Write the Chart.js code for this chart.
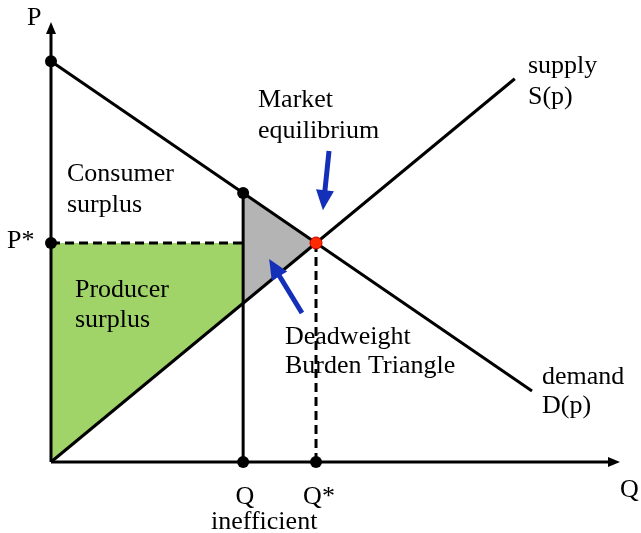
<!DOCTYPE html>
<html>
<head>
    <title>Deadweight Burden</title>
    <script src="https://cdn.jsdelivr.net/npm/chart.js"></script>
    <style>
        body { margin: 0; background: #fff; }
        canvas { display: block; }
    </style>
</head>
<body>
    <canvas id="chart" width="641" height="533"></canvas>

    <script>
        // Model values (arbitrary units, P* = Q* = 10)
        const qMax = 21.47, pMax = 20.09;
        const qStar = 10, pStar = 10;
        const qIneff = 7.25;
        const demandQ = [0, 18.15];
        const demandP = [18.3, 3.24];
        const supplyQ = [0, 17.5];
        const supplyP = [0, 17.5];
        const demandAtIneff = 12.28;
        const supplyAtIneff = 7.25;

        const pts = (xs, ys) => xs.map((x, i) => ({ x: x, y: ys[i] }));

        // Text labels (pixel layout)
        const labels = [
            { t: 'P', x: 27, y: 25 },
            { t: 'Q', x: 620, y: 497 },
            { t: 'P*', x: 7, y: 248 },
            { t: 'supply', x: 528, y: 73 },
            { t: 'S(p)', x: 528, y: 104 },
            { t: 'Market', x: 258, y: 107 },
            { t: 'equilibrium', x: 258, y: 138 },
            { t: 'Consumer', x: 67, y: 181 },
            { t: 'surplus', x: 67, y: 212 },
            { t: 'Producer', x: 75, y: 297 },
            { t: 'surplus', x: 75, y: 327 },
            { t: 'Deadweight', x: 285, y: 344 },
            { t: 'Burden Triangle', x: 285, y: 373 },
            { t: 'demand', x: 542, y: 384 },
            { t: 'D(p)', x: 542, y: 413 },
            { t: 'Q', x: 245, y: 504, c: true },
            { t: 'Q*', x: 319, y: 504, c: true },
            { t: 'inefficient', x: 211, y: 529 }
        ];

        // blue pointer arrows, in data units: [fromQ, fromP, toQ, toP]
        const pointers = [
            [10.49, 14.2, 10.26, 11.5],
            [9.47, 6.8, 8.23, 9.27]
        ];

        function arrowHead(ctx, x1, y1, x2, y2, len, half) {
            const a = Math.atan2(y2 - y1, x2 - x1);
            ctx.beginPath();
            ctx.moveTo(x2, y2);
            ctx.lineTo(x2 - len * Math.cos(a) + half * Math.sin(a), y2 - len * Math.sin(a) - half * Math.cos(a));
            ctx.lineTo(x2 - len * Math.cos(a) - half * Math.sin(a), y2 - len * Math.sin(a) + half * Math.cos(a));
            ctx.closePath();
            ctx.fill();
        }

        const decor = {
            id: 'decor',
            afterDatasetsDraw(chart) {
                const ctx = chart.ctx;
                const xs = chart.scales.x, ys = chart.scales.y;
                ctx.save();
                // axis arrowheads
                ctx.fillStyle = '#000';
                arrowHead(ctx, xs.getPixelForValue(0), ys.getPixelForValue(0) + 20, xs.getPixelForValue(0), ys.getPixelForValue(pMax), 12, 5);
                arrowHead(ctx, xs.getPixelForValue(0), ys.getPixelForValue(0), xs.getPixelForValue(qMax), ys.getPixelForValue(0), 12, 5);
                // blue pointers
                ctx.strokeStyle = '#1430b8';
                ctx.fillStyle = '#1430b8';
                ctx.lineWidth = 5;
                pointers.forEach(p => {
                    const x1 = xs.getPixelForValue(p[0]), y1 = ys.getPixelForValue(p[1]);
                    const x2 = xs.getPixelForValue(p[2]), y2 = ys.getPixelForValue(p[3]);
                    const a = Math.atan2(y2 - y1, x2 - x1);
                    ctx.beginPath();
                    ctx.moveTo(x1, y1);
                    ctx.lineTo(x2 - 14 * Math.cos(a), y2 - 14 * Math.sin(a));
                    ctx.stroke();
                    arrowHead(ctx, x1, y1, x2, y2, 20, 9);
                });
                // texts
                ctx.fillStyle = '#000';
                ctx.font = '26px "Liberation Serif", "Times New Roman", serif';
                ctx.textBaseline = 'alphabetic';
                labels.forEach(l => {
                    ctx.textAlign = l.c ? 'center' : 'left';
                    ctx.fillText(l.t, l.x, l.y);
                });
                ctx.restore();
            }
        };

        const line = (data, extra) => Object.assign({
            type: 'scatter',
            data: data,
            showLine: true,
            borderColor: '#000',
            borderWidth: 3,
            pointRadius: 0,
            fill: false,
            clip: false,
            order: 5
        }, extra || {});

        new Chart(document.getElementById('chart'), {
            type: 'scatter',
            data: {
                datasets: [
                    // producer surplus (green)
                    line(pts([0, 0, qIneff, qIneff, 0], [0, pStar, pStar, supplyAtIneff, 0]),
                        { fill: 'shape', backgroundColor: '#a0d468', borderWidth: 0, borderColor: 'rgba(0,0,0,0)', order: 20 }),
                    // deadweight triangle (gray)
                    line(pts([qIneff, qStar, qIneff, qIneff], [demandAtIneff, pStar, supplyAtIneff, demandAtIneff]),
                        { fill: 'shape', backgroundColor: '#b4b4b4', borderWidth: 0, borderColor: 'rgba(0,0,0,0)', order: 20 }),
                    // axes
                    line(pts([0, 0], [0, pMax - 0.4])),
                    line(pts([0, qMax - 0.4], [0, 0])),
                    // demand and supply
                    line(pts(demandQ, demandP)),
                    line(pts(supplyQ, supplyP)),
                    // inefficient quantity
                    line(pts([qIneff, qIneff], [0, demandAtIneff])),
                    // dashed guides
                    line(pts([0, qIneff], [pStar, pStar]), { borderDash: [9, 5] }),
                    line(pts([qStar, qStar], [0, pStar]), { borderDash: [9, 5] }),
                    // key points
                    {
                        data: pts([0, qIneff, 0, qIneff, qStar], [demandP[0], demandAtIneff, pStar, 0, 0]),
                        backgroundColor: '#000',
                        borderWidth: 0,
                        pointRadius: 6,
                        clip: false,
                        order: 1
                    },
                    {
                        data: pts([qStar], [pStar]),
                        backgroundColor: '#ff2a00',
                        borderColor: '#c00000',
                        borderWidth: 1,
                        pointRadius: 6,
                        clip: false,
                        order: 1
                    }
                ]
            },
            options: {
                responsive: false,
                animation: false,
                layout: { padding: { left: 51, right: 21, top: 22, bottom: 71 } },
                scales: {
                    x: { type: 'linear', min: 0, max: qMax, display: false },
                    y: { type: 'linear', min: 0, max: pMax, display: false }
                },
                plugins: {
                    legend: { display: false },
                    tooltip: { enabled: false }
                }
            },
            plugins: [decor]
        });
    </script>
</body>
</html>
